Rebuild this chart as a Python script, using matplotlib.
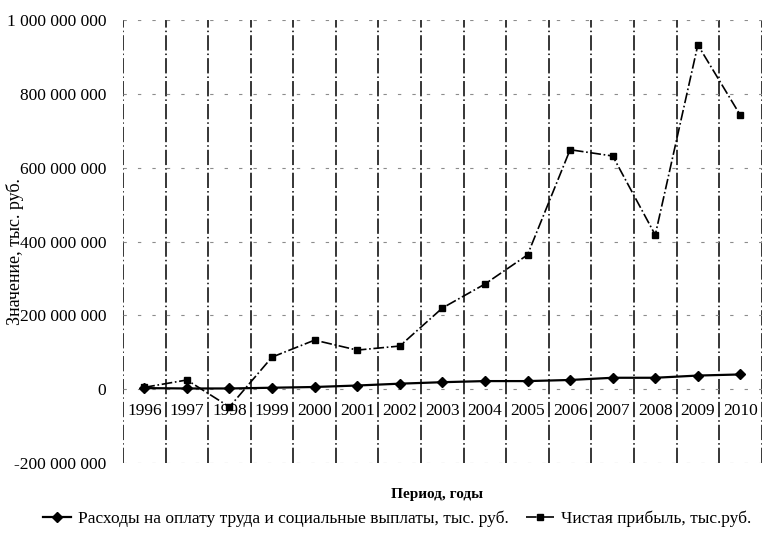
import matplotlib
matplotlib.use("Agg")
import matplotlib.pyplot as plt
import matplotlib.transforms as mtransforms
import numpy as np

years = ["1996", "1997", "1998", "1999", "2000", "2001", "2002", "2003",
         "2004", "2005", "2006", "2007", "2008", "2009", "2010"]
# thousand rubles
labour_costs = [3e6, 2e6, 2e6, 4e6, 6e6, 10e6, 15e6, 19e6,
                22e6, 22e6, 25e6, 31e6, 31e6, 37e6, 40e6]
net_profit = [5e6, 25e6, -48e6, 87e6, 133e6, 106e6, 117e6, 220e6,
              285e6, 364e6, 649e6, 632e6, 418e6, 933e6, 742e6]
y_ticks = [-200e6, 0, 200e6, 400e6, 600e6, 800e6, 1000e6]

plt.rcParams["font.family"] = ["Liberation Serif", "DejaVu Serif"]


def fmt_tick(v):
    return f"{int(v):,}".replace(",", " ")


fig = plt.figure(figsize=(7.64, 5.46), dpi=100)
ax = fig.add_axes([0.161, 0.152, 0.836, 0.811])

x = np.arange(len(years))
ax.plot(x, labour_costs, color="black", lw=1.6, marker="D", markersize=5,
        label="Расходы на оплату труда и социальные выплаты, тыс. руб.")
ax.plot(x, net_profit, color="black", lw=1.2, linestyle="-.", marker="s",
        markersize=5, label="Чистая прибыль, тыс.руб.")

ax.set_xlim(-0.5, len(years) - 0.5)
ax.set_ylim(-200e6, 1000e6)
ax.set_yticks(y_ticks)
ax.set_yticklabels([fmt_tick(v) for v in y_ticks], fontsize=12.5)
ax.tick_params(axis="y", length=0, pad=12)
ax.set_xticks([])

for s in ax.spines.values():
    s.set_visible(False)

# category separators
for b in np.arange(-0.5, len(years), 1.0):
    ax.axvline(b, color="black", lw=1.1, linestyle=(0, (10, 2, 1, 2)), zorder=1)
for t in y_ticks:
    ax.axhline(t, color="0.55", lw=0.8, linestyle=(0, (3, 10)), zorder=1)

# year labels just below the zero line
trans = mtransforms.blended_transform_factory(ax.transData, ax.transData)
off = mtransforms.ScaledTranslation(0, -10 / 72, fig.dpi_scale_trans)
for i, yr in enumerate(years):
    ax.text(i, 0, yr, ha="center", va="top", fontsize=12.5,
            transform=trans + off)

fig.text(0.02, 0.54, "Значение, тыс. руб.", rotation=90, ha="center",
         va="center", fontsize=13)
fig.text(0.572, 0.095, "Период, годы", ha="center", va="center",
         fontsize=11, fontweight="bold")

fig.legend(loc="center", bbox_to_anchor=(0.52, 0.05), ncol=2, frameon=False,
           fontsize=12.5, handlelength=1.6, columnspacing=1.0, handletextpad=0.4)

fig.savefig("out.png", dpi=100)
